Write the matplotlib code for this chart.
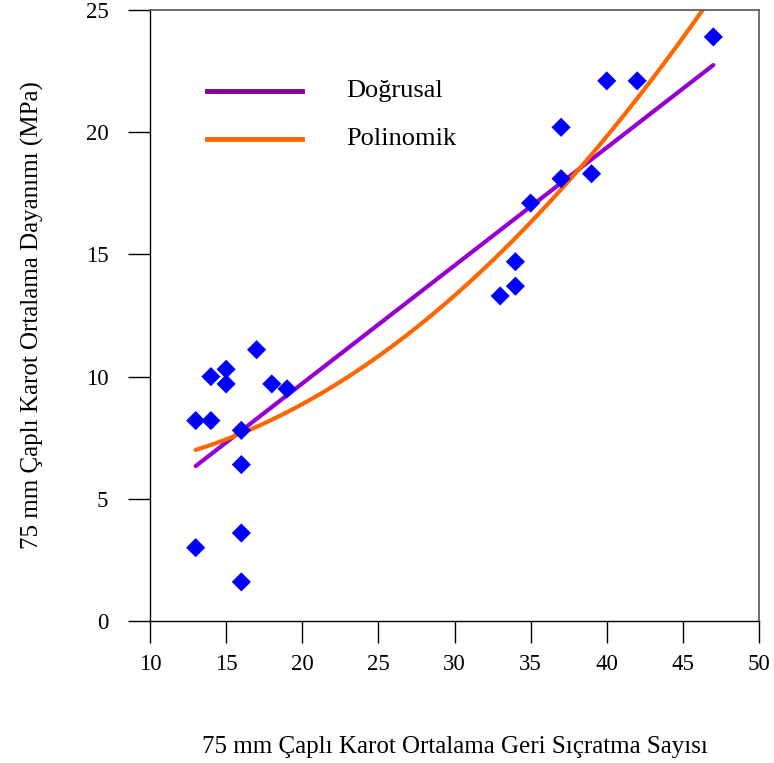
import matplotlib
matplotlib.use("Agg")
import matplotlib.pyplot as plt
import numpy as np

# geri sıçratma sayısı (x) ve karot dayanımı (y)
rebound = [13, 13, 14, 14, 15, 15, 16, 16, 16, 16, 17, 18, 19,
           33, 34, 34, 35, 37, 37, 39, 40, 42, 47]
strength = [8.2, 3.0, 10.0, 8.2, 10.3, 9.7, 7.8, 6.4, 3.6, 1.6, 11.1, 9.7, 9.5,
            13.3, 14.7, 13.7, 17.1, 20.2, 18.1, 18.3, 22.1, 22.1, 23.9]

# trend line coefficients (highest power first)
linear_coef = [0.4826, 0.066]
poly_coef = [0.010378, -0.0749, 6.22]

x_ticks = [10, 15, 20, 25, 30, 35, 40, 45, 50]
y_ticks = [0, 5, 10, 15, 20, 25]

plt.rcParams["font.family"] = ["Liberation Serif", "DejaVu Serif"]

fig = plt.figure(figsize=(7.74, 7.63), dpi=100)
ax = fig.add_axes([150 / 774, 1 - 621 / 763, 609 / 774, 611 / 763])

x = np.asarray(rebound, dtype=float)
y = np.asarray(strength, dtype=float)
xs = np.linspace(x.min(), x.max(), 200)

ax.plot(xs, np.polyval(linear_coef, xs), color="#9400D3", lw=3, solid_capstyle="round", zorder=2)
ax.plot(xs, np.polyval(poly_coef, xs), color="#FF6600", lw=3, solid_capstyle="round", zorder=2)
ax.scatter(x, y, marker="D", s=95, color="#0000FF", edgecolors="none", zorder=3)

# legend drawn as separate lines + text
ax.plot([0.094, 0.250], [0.867, 0.867], transform=ax.transAxes, color="#84008B", lw=3.5)
ax.plot([0.094, 0.250], [0.789, 0.789], transform=ax.transAxes, color="#FF6600", lw=3.5)
ax.text(0.322, 0.867, "Doğrusal", transform=ax.transAxes, fontsize=19, va="center")
ax.text(0.322, 0.789, "Polinomik", transform=ax.transAxes, fontsize=19, va="center")

ax.set_xlim(10, 50)
ax.set_ylim(0, 25)
ax.set_xticks(x_ticks)
ax.set_yticks(y_ticks)
ax.tick_params(axis="x", direction="out", length=16, width=1, pad=8, labelsize=16.5)
ax.tick_params(axis="y", direction="out", length=16, width=1, pad=14, labelsize=16.5)

for side in ("left", "bottom"):
    ax.spines[side].set_color("black")
    ax.spines[side].set_linewidth(1)
for side in ("top", "right"):
    ax.spines[side].set_color("#555555")
    ax.spines[side].set_linewidth(1.2)

ax.set_xlabel("75 mm Çaplı Karot Ortalama Geri Sıçratma Sayısı", fontsize=18, labelpad=44)
ax.set_ylabel("75 mm Çaplı Karot Ortalama Dayanımı (MPa)", fontsize=18, labelpad=30)

fig.savefig("out.png", dpi=100)
